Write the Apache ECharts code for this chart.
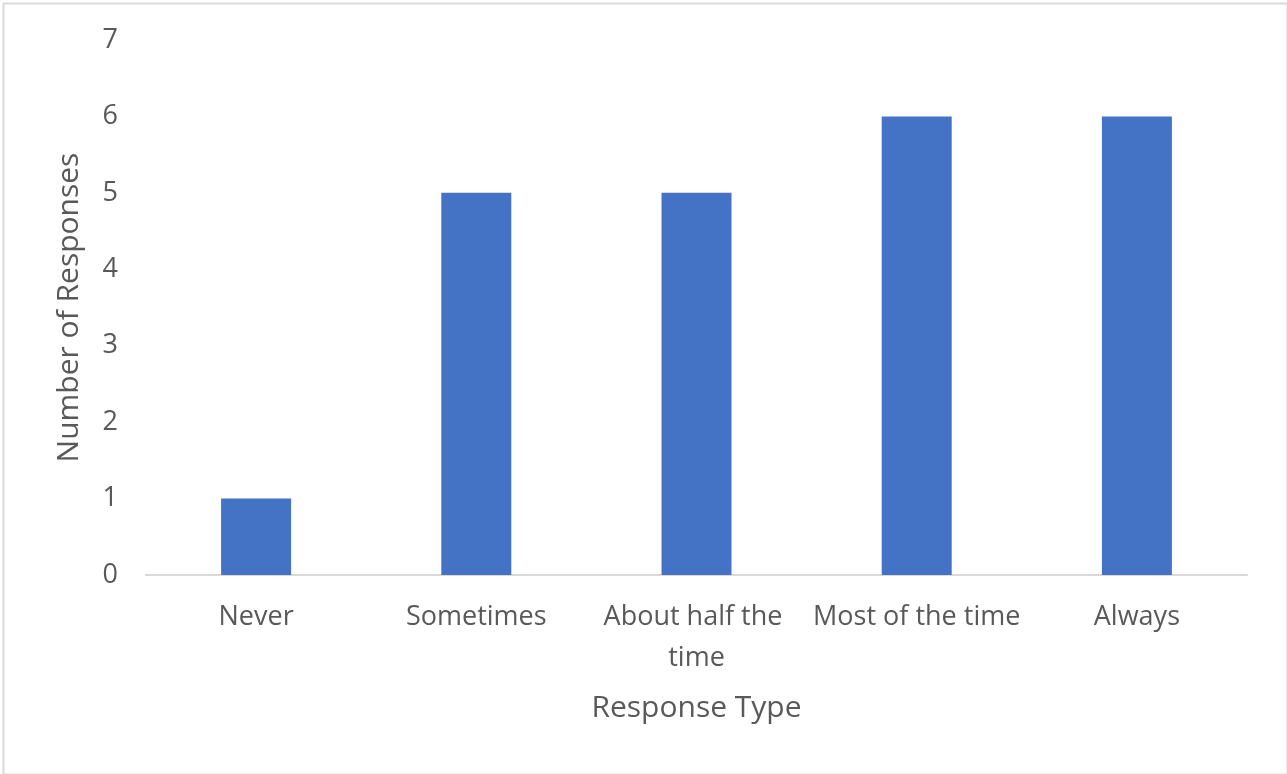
<!DOCTYPE html>
<html>
<head>
<meta charset="utf-8">
<script src="https://cdn.jsdelivr.net/npm/echarts@6/dist/echarts.min.js"></script>
<style>
  html, body { margin: 0; padding: 0; background: #fff; }
  #chart { width: 1287px; height: 774px; }
</style>
</head>
<body>
<div id="chart"></div>
<script>
// Survey responses per answer option
const categories = ['Never', 'Sometimes', 'About half the time', 'Most of the time', 'Always'];
const responses = [1, 5, 5, 6, 6];
const yTicks = [0, 1, 2, 3, 4, 5, 6, 7];

const FONT = '"Open Sans", "Noto Sans", sans-serif';
const TEXT = '#595959';

const chart = echarts.init(document.getElementById('chart'), null, { renderer: 'canvas' });
chart.setOption({
  animation: false,
  backgroundColor: '#ffffff',
  textStyle: { fontFamily: FONT },
  graphic: [{
    type: 'rect',
    left: 1, top: 1,
    shape: { width: 1284, height: 771 },
    style: { fill: 'none', stroke: '#d9d9d9', lineWidth: 2 },
    silent: true
  }],
  grid: { left: 146, right: 40, top: 40, bottom: 199, containLabel: false },
  xAxis: {
    type: 'category',
    data: categories,
    name: 'Response Type',
    nameLocation: 'middle',
    nameGap: 118,
    nameTextStyle: { color: TEXT, fontSize: 30, fontFamily: FONT },
    axisLine: { show: true, lineStyle: { color: '#d9d9d9', width: 2 } },
    axisTick: { show: false },
    axisLabel: {
      color: TEXT, fontSize: 27, fontFamily: FONT, margin: 22,
      width: 222, overflow: 'break', lineHeight: 41, interval: 0
    }
  },
  yAxis: {
    type: 'value',
    min: yTicks[0],
    max: yTicks[yTicks.length - 1],
    interval: 1,
    name: 'Number of Responses',
    nameLocation: 'middle',
    nameGap: 62,
    nameTextStyle: { color: TEXT, fontSize: 30, fontFamily: FONT },
    axisLine: { show: false },
    axisTick: { show: false },
    splitLine: { show: false },
    axisLabel: { color: TEXT, fontSize: 27, fontFamily: FONT, margin: 28 }
  },
  series: [{
    type: 'bar',
    data: responses,
    barWidth: 70,
    itemStyle: { color: '#4472c4' }
  }]
});
</script>
</body>
</html>
